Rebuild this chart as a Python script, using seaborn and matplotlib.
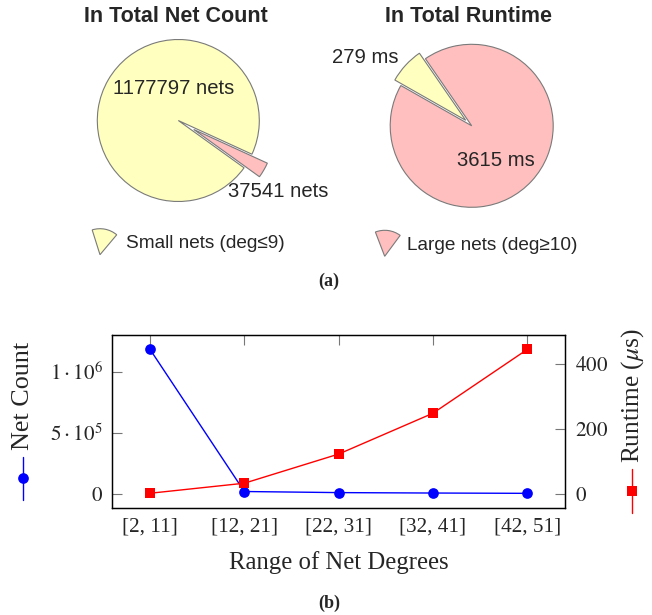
import matplotlib
matplotlib.use("Agg")
import matplotlib.pyplot as plt
from matplotlib.patches import Wedge
import pandas as pd
import seaborn as sns

# pie data (a)
pie_labels = ["Small nets (deg≤9)", "Large nets (deg≥10)"]
net_count_total = [1177797, 37541]
runtime_total_ms = [279, 3615]
net_count_text = ["1177797 nets", "37541 nets"]
runtime_text = ["279 ms", "3615 ms"]
pie_colors = ["#FFFFBF", "#FFBFBF"]

# line data (b)
degree_ranges = ["[2, 11]", "[12, 21]", "[22, 31]", "[32, 41]", "[42, 51]"]
net_counts = [1184000, 17000, 8000, 4500, 2000]
runtimes_us = [1, 32, 122, 248, 445]

sns.set_style("white")
plt.rcParams["font.family"] = ["Liberation Serif", "DejaVu Serif"]
plt.rcParams["mathtext.fontset"] = "stix"
SANS = ["Liberation Sans", "DejaVu Sans"]

W, H = 652, 615
fig = plt.figure(figsize=(W / 100, H / 100), dpi=100)


def pie_axes(cx, cy, r):
    s = 1.3 * r
    return fig.add_axes([(cx - s) / W, (H - cy - s) / H, 2 * s / W, 2 * s / H])


wp = dict(edgecolor="#7a7a7a", linewidth=0.8)

# left pie: net count
axp1 = pie_axes(178.3, 120.5, 81)
axp1.pie(net_count_total, colors=pie_colors, startangle=-24.6,
         explode=[0, 0.22], wedgeprops=wp)
axp1.set_xlim(-1.3, 1.3)
axp1.set_ylim(-1.3, 1.3)
axp1.text(-0.06, 0.39, net_count_text[0], ha="center", va="center", fontsize=14.6, family=SANS)
axp1.text(1.235, -0.88, net_count_text[1], ha="center", va="center", fontsize=14.6, family=SANS)

# right pie: runtime
axp2 = pie_axes(471.7, 125.8, 81.5)
axp2.pie(runtime_total_ms, colors=pie_colors, startangle=124.6,
         explode=[0.1, 0], wedgeprops=wp)
axp2.set_xlim(-1.3, 1.3)
axp2.set_ylim(-1.3, 1.3)
axp2.text(-1.30, 0.844, runtime_text[0], ha="center", va="center", fontsize=14.6, family=SANS)
axp2.text(0.30, -0.426, runtime_text[1], ha="center", va="center", fontsize=14.6, family=SANS)

fig.text(176 / W, 1 - 16.5 / H, "In Total Net Count", ha="center", va="center",
         fontsize=15.5, fontweight="bold", family=SANS)
fig.text(468.8 / W, 1 - 16.5 / H, "In Total Runtime", ha="center", va="center",
         fontsize=15.5, fontweight="bold", family=SANS)

# overlay in pixel coords for legend icons
ov = fig.add_axes([0, 0, 1, 1])
ov.set_xlim(0, W)
ov.set_ylim(0, H)
ov.axis("off")
ov.add_patch(Wedge((100, H - 254.7), 26, 50, 107.5, facecolor=pie_colors[0], **wp))
ov.add_patch(Wedge((384.7, H - 256.3), 26, 53.5, 111, facecolor=pie_colors[1], **wp))
fig.text(126 / W, 1 - 244 / H, pie_labels[0], ha="left", va="center", fontsize=13.7, family=SANS)
fig.text(407.3 / W, 1 - 245 / H, pie_labels[1], ha="left", va="center", fontsize=13.7, family=SANS)
fig.text(329 / W, 1 - 281 / H, "(a)", ha="center", va="center", fontsize=13, fontweight="bold")

# bottom chart
df = pd.DataFrame({"range": degree_ranges, "count": net_counts, "runtime": runtimes_us})
ax = fig.add_axes([112.3 / W, (H - 508) / H, (565 - 112.3) / W, 173 / H])
sns.lineplot(data=df, x="range", y="count", ax=ax, color="blue", marker="o",
             markersize=7.7, markeredgewidth=0, linewidth=1, sort=False)
ax2 = ax.twinx()
sns.lineplot(data=df, x="range", y="runtime", ax=ax2, color="red", marker="s",
             markersize=7.4, markeredgewidth=0, linewidth=1, sort=False)

ax.set_xlim(-0.4, 4.4)
ax.set_ylim(-118400, 1302000)
ax2.set_ylim(-44.5, 489.5)
ax.set_yticks([0, 5e5, 1e6])
ax.set_yticklabels(["$0$", r"$5\cdot10^{5}$", r"$1\cdot10^{6}$"])
ax2.set_yticks([0, 200, 400])
ax2.set_yticklabels(["$0$", "$200$", "$400$"])

for a in (ax, ax2):
    for sp in a.spines.values():
        sp.set_visible(True)
        sp.set_color("black")
        sp.set_linewidth(0.9)
ax.tick_params(axis="x", direction="in", top=True, length=7, width=0.8, color="#777777",
               pad=7, labelsize=15.2)
ax.tick_params(axis="y", direction="in", length=7, width=0.8, color="#777777",
               pad=7, labelsize=15.2)
ax2.tick_params(axis="y", direction="in", length=7, width=0.8, color="#777777",
                pad=7, labelsize=15.2)

ax.set_xlabel("Range of Net Degrees", fontsize=17.8)
ax.xaxis.set_label_coords(0.5, (508 - 562.7) / 173)
ax.xaxis.label.set_va("center")
ax.set_ylabel("Net Count", fontsize=18.8)
ax.yaxis.set_label_coords((23 - 112.3) / 452.7, (508 - 395.5) / 173)
ax.yaxis.label.set_va("center")
ax2.set_ylabel(r"Runtime ($\mu$s)", fontsize=18.3, rotation=90)
ax2.yaxis.set_label_coords((633 - 112.3) / 452.7, (508 - 396) / 173)
ax2.yaxis.label.set_va("center")

# legend images next to the axis labels
ov.plot([23.3, 23.3], [H - 456.7, H - 500], color="blue", linewidth=1)
ov.plot([23.3], [H - 477.7], "o", color="blue", markersize=7.7, markeredgewidth=0)
ov.plot([631.7, 631.7], [H - 469.3, H - 512.7], color="red", linewidth=1)
ov.plot([631.7], [H - 491], "s", color="red", markersize=7.4, markeredgewidth=0)

fig.text(329 / W, 1 - 603 / H, "(b)", ha="center", va="center", fontsize=13, fontweight="bold")

fig.savefig("out.png", dpi=100)
